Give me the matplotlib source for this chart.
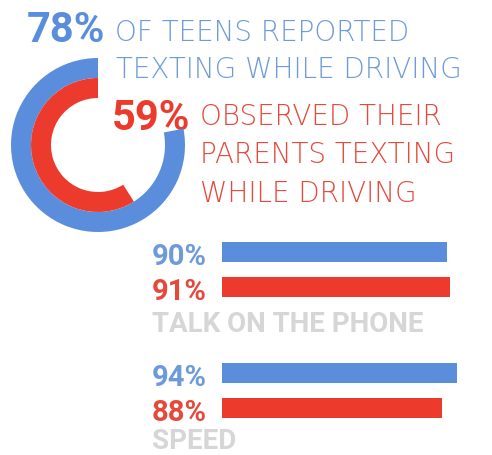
import matplotlib
matplotlib.use("Agg")
import matplotlib.pyplot as plt

# ---- data ----
ring_labels = ["Teens texting while driving", "Observed parents texting while driving"]
ring_values = [78, 59]
bar_categories = ["TALK ON THE PHONE", "SPEED"]
teen_values = [90, 94]
parent_values = [91, 88]
headline_blue = ["OF TEENS REPORTED", "TEXTING WHILE DRIVING"]
headline_red = ["OBSERVED THEIR", "PARENTS TEXTING", "WHILE DRIVING"]

BLUE = "#5a8edc"
BLUE_TXT = "#6d9bd9"
RED = "#ec3a2d"
RED_TXT = "#e4493b"
GRAY = "#d6d6d6"

W, H = 492, 455
fig = plt.figure(figsize=(W / 100, H / 100), dpi=100)
fig.patch.set_facecolor("white")

tax = fig.add_axes([0, 0, 1, 1])
tax.set_xlim(0, W)
tax.set_ylim(H, 0)
tax.axis("off")

# ---- ring chart ----
cx, cy, R = 98, 145, 87
pax = fig.add_axes([(cx - R) / W, (H - cy - R) / H, 2 * R / W, 2 * R / H])
ring_w = 20 / R
for i, (v, c) in enumerate(zip(ring_values, [BLUE, RED])):
    pax.pie([v, 100 - v], colors=[c, "none"], startangle=90, counterclock=True,
            radius=1 - i * ring_w, wedgeprops=dict(width=ring_w, linewidth=0))
pax.set_xlim(-1, 1)
pax.set_ylim(-1, 1)
pax.axis("off")

fam = ["Roboto", "DejaVu Sans"]
lfam = ["DejaVu Sans"]
tax.text(105, 42, f"{ring_values[0]}%", color=BLUE, fontsize=30, fontweight="bold",
         ha="right", va="baseline", family=fam)
tax.text(115, 41, headline_blue[0], color=BLUE_TXT, fontsize=20, fontweight="light",
         ha="left", va="baseline", family=lfam)
tax.text(116, 78, headline_blue[1], color=BLUE_TXT, fontsize=20, fontweight="light",
         ha="left", va="baseline", family=lfam)
tax.text(190, 130, f"{ring_values[1]}%", color=RED, fontsize=30, fontweight="bold",
         ha="right", va="baseline", family=fam)
for line, yb in zip(headline_red, [125, 163, 202]):
    tax.text(200, yb, line, color=RED_TXT, fontsize=20, fontweight="light",
             ha="left", va="baseline", family=lfam)

# ---- bars ----
bax = fig.add_axes([222 / W, 0, 250 / W, 1])
bax.set_xlim(0, 100)
bax.set_ylim(H, 0)
bax.axis("off")
blue_y = [252, 373]
red_y = [287, 408]
cat_y = [332, 449]
bax.barh(blue_y, teen_values, height=20, color=BLUE, left=0)
bax.barh(red_y, parent_values, height=20, color=RED, left=0)

for tv, pv, by, ry, cyb, cat in zip(teen_values, parent_values, blue_y, red_y, cat_y, bar_categories):
    tax.text(207, by + 13, f"{tv}%", color=BLUE_TXT, fontsize=21, fontweight="bold",
             ha="right", va="baseline", family=fam)
    tax.text(207, ry + 13, f"{pv}%", color=RED_TXT, fontsize=21, fontweight="bold",
             ha="right", va="baseline", family=fam)
    tax.text(152, cyb, cat, color=GRAY, fontsize=20, fontweight="bold",
             ha="left", va="baseline", family=fam)

fig.savefig("out.png", dpi=100, facecolor="white")
